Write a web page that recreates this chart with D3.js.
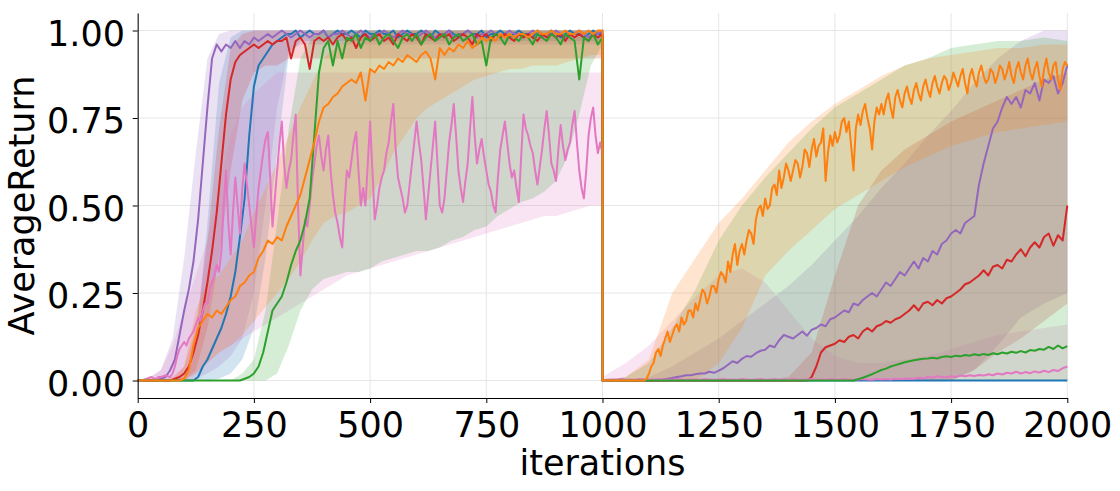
<!DOCTYPE html>
<html>
<head>
<meta charset="utf-8">
<script src="https://cdn.jsdelivr.net/npm/d3@7"></script>
<style>
  body { margin: 0; background: #fff; }
  svg text { font-family: 'DejaVu Sans', sans-serif; fill: #000; }
</style>
</head>
<body>
<svg id="chart" width="1120" height="491"></svg>
<script>
// ticks
const xTicks = [0, 250, 500, 750, 1000, 1250, 1500, 1750, 2000]
const yTicks = [0, 0.25, 0.5, 0.75, 1.0]

// mean lines: task A covers iters 0..1000, task B 1000..2000, evenly sampled
// (every 10 iters, or every 5 for the noisiest curves)
const blueMeanA = [
  0,0,0,0,0,0,0,0,0,0,
  0,0,0,0.01,0.04,0.06,0.09,0.12,0.15,0.19,
  0.24,0.31,0.41,0.52,0.70,0.84,0.90,0.92,0.94,0.96,
  0.97,0.98,0.99,0.99,1.00,0.98,0.99,1.00,0.99,0.99,
  1.00,0.98,0.99,1.00,0.99,0.99,1.00,0.99,0.98,1.00,
  0.99,0.99,1.00,0.99,0.99,1.00,0.98,0.99,1.00,0.99,
  0.99,1.00,0.99,0.98,1.00,0.99,0.99,1.00,0.99,0.98,
  0.99,1.00,0.99,0.99,1.00,0.98,0.99,0.99,1.00,0.99,
  0.98,0.99,1.00,0.99,0.99,0.98,1.00,0.99,0.99,1.00,
  0.99,0.98,0.99,1.00,0.99,0.99,0.98,0.99,1.00,0.99,
  0.99]
const blueMeanB = [
  0,0,0,0,0,0,0,0,0,0, 0,0,0,0,0,0,0,0,0,0,
  0,0,0,0,0,0,0,0,0,0, 0,0,0,0,0,0,0,0,0,0,
  0,0,0,0,0,0,0,0,0,0, 0,0,0,0,0,0,0,0,0,0,
  0,0,0,0,0,0,0,0,0,0, 0,0,0,0,0,0,0,0,0,0,
  0,0,0,0,0,0,0,0,0,0, 0,0,0,0,0,0,0,0,0,0,
  0]

const purpleMeanA = [
  0,0,0,0,0,0.005,0.01,0.03,0.06,0.13,
  0.20,0.26,0.34,0.46,0.62,0.78,0.92,0.96,0.94,0.96,
  0.95,0.97,0.95,0.97,0.96,0.98,0.97,0.98,0.99,0.98,
  0.99,1.00,0.99,0.98,0.99,1.00,0.99,0.98,0.99,0.99,
  1.00,0.98,0.99,0.99,1.00,0.99,0.98,0.99,1.00,0.99,
  0.98,0.99,0.99,1.00,0.99,0.98,0.99,1.00,0.99,0.99,
  0.98,0.99,1.00,0.99,0.98,0.99,0.99,1.00,0.98,0.99,
  0.99,1.00,0.99,0.98,0.99,0.99,1.00,0.99,0.98,0.99,
  1.00,0.99,0.99,0.98,0.99,1.00,0.99,0.98,0.99,0.99,
  1.00,0.99,0.98,0.99,0.99,1.00,0.99,0.98,0.99,0.99,
  1.00]
const purpleMeanB = [
  0,0,0,0,0,0,0,0,0,0,
  0,0,0,0.003,0.005,0.007,0.01,0.012,0.015,0.015,
  0.018,0.02,0.02,0.025,0.022,0.028,0.035,0.045,0.055,0.05,
  0.062,0.07,0.068,0.078,0.085,0.088,0.1,0.095,0.115,0.13,
  0.125,0.12,0.13,0.14,0.128,0.145,0.15,0.16,0.155,0.175,
  0.18,0.19,0.2,0.195,0.22,0.215,0.23,0.24,0.25,0.24,
  0.26,0.28,0.27,0.29,0.31,0.3,0.32,0.34,0.32,0.35,
  0.34,0.37,0.36,0.39,0.4,0.42,0.43,0.42,0.45,0.46,
  0.47,0.56,0.62,0.67,0.72,0.74,0.78,0.81,0.79,0.81,
  0.78,0.83,0.82,0.85,0.8,0.86,0.85,0.87,0.82,0.85,
  0.9]

const redMeanA = [
  0,0,0,0,0,0,0,0,0.005,0.01,
  0.02,0.04,0.08,0.13,0.2,0.28,0.37,0.48,0.62,0.76,
  0.86,0.91,0.93,0.94,0.95,0.96,0.95,0.96,0.97,0.96,
  0.97,0.97,0.98,0.92,0.97,0.98,0.96,0.89,0.97,0.98,
  0.97,0.98,0.96,0.98,0.99,0.97,0.98,0.95,0.98,0.99,
  0.97,0.98,0.99,0.97,0.98,0.96,0.99,0.98,0.97,0.99,
  0.98,0.96,0.99,0.98,0.97,0.99,0.98,0.99,0.97,0.98,
  0.99,0.98,0.96,0.99,0.98,0.99,0.97,0.99,0.98,0.99,
  0.98,0.97,0.99,0.98,0.99,0.98,0.97,0.99,0.98,0.99,
  0.98,0.99,0.97,0.99,0.98,0.99,0.98,0.97,0.99,0.98,
  0.99]
const redMeanB = [
  0,0,0,0,0,0,0,0,0,0, 0,0,0,0,0,0,0,0,0,0,
  0,0,0,0,0,0,0,0,0,0, 0,0,0,0,0,0,0,0,0,0,
  0,0,0,0,0,0.01,0.04,0.08,0.095,0.1,
  0.105,0.115,0.11,0.125,0.13,0.12,0.14,0.15,0.14,0.155,
  0.16,0.17,0.165,0.175,0.18,0.19,0.2,0.215,0.2,0.22,
  0.225,0.215,0.23,0.22,0.235,0.24,0.25,0.26,0.275,0.28,
  0.29,0.3,0.315,0.3,0.325,0.33,0.32,0.345,0.34,0.36,
  0.375,0.355,0.38,0.395,0.38,0.41,0.42,0.385,0.415,0.4,
  0.5]

const greenMeanA = [
  0,0,0,0,0,0,0,0,0,0,
  0,0,0,0,0,0,0,0,0,0,
  0,0,0,0.005,0.01,0.02,0.04,0.08,0.14,0.2,
  0.22,0.24,0.28,0.33,0.37,0.4,0.45,0.52,0.7,0.88,
  0.95,0.97,0.9,0.97,0.92,0.98,0.97,0.99,0.95,0.98,
  0.97,0.99,0.96,0.98,0.99,0.97,0.95,0.98,0.99,0.97,
  0.99,0.96,0.98,0.99,0.97,0.98,0.99,0.96,0.98,0.99,
  0.97,0.98,0.99,0.96,0.97,0.9,0.98,0.99,0.98,0.96,
  0.99,0.98,0.97,0.99,0.98,0.96,0.99,0.98,0.97,0.99,
  0.98,0.96,0.99,0.98,0.97,0.86,0.98,0.97,0.99,0.96,
  0.98]
const greenMeanB = [
  0,0,0,0,0,0,0,0,0,0, 0,0,0,0,0,0,0,0,0,0,
  0,0,0,0,0,0,0,0,0,0, 0,0,0,0,0,0,0,0,0,0,
  0,0,0,0,0,0,0,0,0,0,
  0,0,0,0,0,0.004,0.008,0.013,0.018,0.024,
  0.03,0.034,0.04,0.044,0.048,0.052,0.055,0.058,0.06,0.062,
  0.063,0.065,0.063,0.067,0.069,0.067,0.071,0.069,0.073,0.071,
  0.075,0.072,0.076,0.073,0.078,0.075,0.08,0.077,0.082,0.079,
  0.084,0.08,0.087,0.085,0.09,0.088,0.096,0.09,0.1,0.092,
  0.098]

const orangeMeanA = [
  0,0,0,0,0,0,0,0,0,0,
  0.005,0.03,0.1,0.15,0.17,0.19,0.18,0.2,0.19,0.21,
  0.23,0.24,0.27,0.28,0.3,0.31,0.35,0.37,0.4,0.39,
  0.41,0.4,0.44,0.47,0.5,0.53,0.58,0.63,0.68,0.74,
  0.78,0.79,0.81,0.82,0.84,0.85,0.86,0.85,0.88,0.8,
  0.89,0.88,0.9,0.89,0.91,0.9,0.92,0.91,0.93,0.92,
  0.91,0.93,0.94,0.92,0.86,0.95,0.93,0.95,0.94,0.96,
  0.95,0.97,0.95,0.96,0.98,0.97,0.98,0.97,0.99,0.98,
  0.99,0.98,0.99,0.99,0.98,0.99,1.0,0.99,0.99,1.0,
  0.99,0.99,1.0,0.99,0.99,1.0,0.99,1.0,0.99,1.0,
  1.0]
// every 5 iters
const orangeMeanB = [
  0,0,0,0,0,0,0,0,0,0,0,0,0,0,0,0,0,0,0,0.005,
  0.02,0.04,0.05,0.08,0.09,0.07,0.1,0.12,0.14,0.11,0.13,0.15,0.16,0.14,0.18,0.16,0.17,0.2,0.2,0.18,
  0.22,0.2,0.23,0.26,0.25,0.22,0.24,0.27,0.27,0.25,0.29,0.31,0.3,0.28,0.34,0.31,0.36,0.39,0.33,0.37,
  0.39,0.36,0.4,0.43,0.42,0.39,0.46,0.49,0.5,0.47,0.52,0.49,0.5,0.55,0.56,0.53,0.6,0.55,0.58,0.62,
  0.6,0.57,0.6,0.63,0.62,0.58,0.61,0.66,0.65,0.61,0.66,0.69,0.64,0.67,0.68,0.72,0.57,0.65,0.7,0.67,
  0.71,0.68,0.7,0.74,0.75,0.71,0.74,0.67,0.6,0.72,0.76,0.73,0.77,0.79,0.75,0.72,0.66,0.74,0.78,0.76,
  0.79,0.76,0.8,0.82,0.78,0.75,0.81,0.83,0.8,0.78,0.82,0.84,0.81,0.79,0.83,0.85,0.82,0.8,0.84,0.86,
  0.83,0.81,0.85,0.87,0.84,0.82,0.85,0.87,0.86,0.83,0.85,0.88,0.86,0.84,0.87,0.89,0.85,0.82,0.87,0.89,
  0.86,0.84,0.88,0.9,0.87,0.85,0.86,0.89,0.88,0.85,0.87,0.9,0.89,0.86,0.88,0.91,0.87,0.85,0.89,0.91,
  0.88,0.86,0.9,0.92,0.88,0.86,0.89,0.91,0.87,0.84,0.89,0.92,0.88,0.86,0.9,0.91,0.86,0.83,0.89,0.91,
  0.9]

// every 5 iters
const pinkMeanA = [
  0,0,0,0.003,0.005,0.008,0.01,0.006,0.005,0.01,0.01,0.012,0.015,0.012,0.01,0.02,0.04,0.07,0.09,0.1,
  0.11,0.1,0.12,0.13,0.14,0.16,0.18,0.17,0.2,0.22,0.22,0.26,0.28,0.3,0.33,0.31,0.37,0.5,0.6,0.45,
  0.36,0.48,0.58,0.5,0.42,0.55,0.62,0.56,0.5,0.44,0.38,0.47,0.55,0.6,0.65,0.69,0.71,0.58,0.44,0.52,
  0.6,0.68,0.74,0.62,0.55,0.6,0.63,0.7,0.76,0.5,0.3,0.38,0.46,0.44,0.5,0.57,0.62,0.67,0.7,0.64,
  0.6,0.66,0.7,0.6,0.53,0.48,0.45,0.41,0.38,0.5,0.6,0.58,0.63,0.68,0.71,0.6,0.5,0.55,0.5,0.62,
  0.74,0.6,0.46,0.5,0.55,0.58,0.6,0.65,0.68,0.74,0.79,0.66,0.58,0.55,0.52,0.48,0.5,0.56,0.62,0.68,
  0.74,0.68,0.63,0.55,0.46,0.53,0.6,0.67,0.74,0.62,0.5,0.48,0.52,0.6,0.68,0.73,0.79,0.7,0.6,0.55,
  0.51,0.57,0.62,0.72,0.81,0.7,0.62,0.66,0.69,0.64,0.6,0.56,0.54,0.5,0.48,0.58,0.66,0.7,0.74,0.68,
  0.62,0.58,0.6,0.55,0.51,0.64,0.76,0.72,0.7,0.67,0.65,0.6,0.56,0.61,0.66,0.72,0.77,0.7,0.62,0.6,
  0.57,0.66,0.73,0.67,0.63,0.66,0.68,0.73,0.77,0.68,0.6,0.55,0.52,0.6,0.7,0.75,0.78,0.7,0.65,0.68,
  0.65]
const pinkMeanB = [
  0,0.002,0.003,0.002,0.004,0.002,0.003,0.002,0.004,0.003,
  0.002,0.003,0.004,0.002,0.003,0.002,0.004,0.003,0.002,0.003,
  0.003,0.002,0.004,0.003,0.002,0.003,0.004,0.002,0.003,0.002,
  0.004,0.003,0.002,0.003,0.004,0.002,0.003,0.004,0.002,0.003,
  0.002,0.004,0.003,0.002,0.003,0.004,0.002,0.003,0.002,0.004,
  0.003,0.002,0.004,0.003,0.002,0.003,0.004,0.003,0.002,0.004,
  0.003,0.004,0.003,0.005,0.004,0.005,0.006,0.005,0.008,0.006,
  0.01,0.008,0.012,0.01,0.009,0.012,0.01,0.014,0.012,0.015,
  0.013,0.016,0.014,0.018,0.015,0.02,0.017,0.022,0.02,0.025,
  0.02,0.024,0.021,0.026,0.023,0.028,0.024,0.03,0.027,0.035,
  0.04]

// min/max bands: task A every 25 iters, task B every 50 iters
const blueLowA = [0,0,0,0,0,0,0,0.005,0.02,0.06,0.15,0.35,0.65,0.93,0.97,0.97,
  0.97,0.97,0.97,0.97,0.97,0.97,0.97,0.97,0.97,0.97,0.97,0.97,0.97,0.97,0.97,0.97,0.97,0.97,0.97,0.97,0.97,0.97,0.97,0.97,0.97]
const blueHighA = [0,0,0,0,0.01,0.1,0.45,0.85,0.98,
  1,1,1,1,1,1,1,1,1,1,1,1,1,1,1,1,1,1,1,1,1,1,1,1,1,1,1,1,1,1,1,1]
const blueLowB = [0,0,0,0,0,0,0,0,0,0,0,0,0,0,0,0,0,0,0,0,0]
const blueHighB = [0,0,0,0,0,0,0,0,0,0,0,0,0,0,0,0,0,0,0,0,0]

const purpleLowA = [0,0,0,0,0,0.005,0.02,0.04,0.07,0.12,0.25,0.5,0.78,0.94,0.96,
  0.96,0.96,0.96,0.96,0.96,0.96,0.96,0.96,0.96,0.96,0.96,0.96,0.96,0.96,0.96,0.96,0.96,0.96,0.96,0.96,0.96,0.96,0.96,0.96,0.96,0.96]
const purpleHighA = [0,0.005,0.03,0.12,0.35,0.65,0.92,0.99,
  1,1,1,1,1,1,1,1,1,1,1,1,1,1,1,1,1,1,1,1,1,1,1,1,1,1,1,1,1,1,1,1,1]
const purpleLowB = [0,0,0,0,0,0,0,0,0,0,0,0,0,0,0,0,0.03,0.1,0.18,0.22,0.25]
const purpleHighB = [0,0,0.01,0.04,0.08,0.12,0.17,0.22,0.27,0.33,0.4,0.47,0.55,0.62,0.7,0.77,0.85,0.92,0.97,1.0,1.0]

const redLowA = [0,0,0,0,0,0.03,0.15,0.35,0.6,0.8,0.88,0.9,0.9,
  0.92,0.92,0.92,0.92,0.92,0.92,0.92,0.92,0.92,0.92,0.92,0.92,0.92,0.92,0.92,0.92,0.92,0.92,0.92,0.92,0.92,0.92,0.92,0.92,0.92,0.92,0.92,0.92]
const redHighA = [0,0,0,0.01,0.04,0.15,0.4,0.72,0.95,0.99,
  1,1,1,1,1,1,1,1,1,1,1,1,1,1,1,1,1,1,1,1,1,1,1,1,1,1,1,1,1,1,1]
const redLowB = [0,0,0,0,0,0,0,0,0,0,0,0,0,0,0,0,0.03,0.08,0.12,0.17,0.22]
const redHighB = [0,0,0,0,0,0,0,0,0.01,0.08,0.3,0.5,0.6,0.66,0.7,0.74,0.77,0.8,0.83,0.86,0.88]

const greenLowA = [0,0,0,0,0,0,0,0,0,0,0,0,
  0.02,0.1,0.2,0.26,0.29,0.3,0.31,0.31,0.32,0.34,0.35,0.36,0.37,0.37,0.38,0.4,0.41,0.43,0.44,0.47,0.49,0.51,0.52,0.54,0.57,0.64,0.76,0.9,0.96]
const greenHighA = [0,0,0,0,0,0,0,0,0,0.02,0.06,0.2,0.45,0.72,0.92,0.98,
  1,1,1,1,1,1,1,1,1,1,1,1,1,1,1,1,1,1,1,1,1,1,1,1,1]
const greenLowB = [0,0,0,0,0,0,0,0,0,0,0,0,0,0,0,0,0,0,0,0,0]
const greenHighB = [0,0.01,0.05,0.15,0.26,0.4,0.5,0.58,0.65,0.72,0.78,0.82,0.86,0.9,0.92,0.95,0.96,0.97,0.97,0.98,0.97]

const orangeLowA = [0,0,0,0,0,0.02,0.05,0.08,0.1,0.13,0.17,0.21,0.25,0.29,0.34,0.4,0.45,0.47,0.48,0.5,0.52,
  0.58,0.65,0.7,0.75,0.78,0.8,0.82,0.84,0.86,0.87,0.88,0.89,0.89,0.9,0.9,0.9,0.91,0.92,0.93,0.93]
const orangeHighA = [0,0,0,0,0.04,0.2,0.28,0.3,0.35,0.4,0.48,0.55,0.62,0.7,0.78,0.85,0.92,0.95,0.97,0.98,0.99,
  1,1,1,1,1,1,1,1,1,1,1,1,1,1,1,1,1,1,1,1]
const orangeLowB = [0,0,0,0,0,0.05,0.15,0.3,0.37,0.43,0.49,0.53,0.57,0.61,0.64,0.67,0.69,0.71,0.72,0.73,0.74]
const orangeHighB = [0,0.01,0.06,0.25,0.35,0.45,0.52,0.6,0.68,0.74,0.79,0.83,0.87,0.9,0.92,0.93,0.94,0.95,0.95,0.96,0.96]

const pinkLowA = [0,0,0,0,0,0.02,0.05,0.08,0.1,0.12,0.14,0.16,0.18,0.2,0.22,0.24,0.26,0.28,0.3,0.31,0.32,
  0.33,0.34,0.35,0.36,0.37,0.38,0.39,0.4,0.41,0.42,0.43,0.44,0.45,0.46,0.47,0.47,0.48,0.49,0.5,0.5]
const pinkHighA = [0,0.01,0.03,0.1,0.2,0.3,0.4,0.55,0.7,0.78,0.82,0.85,
  0.88,0.88,0.88,0.88,0.88,0.88,0.88,0.88,0.88,0.88,0.88,0.88,0.88,0.88,0.88,0.88,0.88,0.88,0.88,0.88,0.88,0.88,0.88,0.88,0.88,0.88,0.88,0.88,0.88]
const pinkLowB = [0,0,0,0,0,0,0,0,0,0,0,0,0,0,0,0,0,0,0,0,0]
const pinkHighB = [0.01,0.05,0.1,0.17,0.24,0.3,0.32,0.28,0.2,0.12,0.07,0.05,0.05,0.06,0.07,0.09,0.11,0.13,0.14,0.15,0.16]

// drawing order follows the original plot
const series = [
  { color: '#1f77b4', meanA: blueMeanA, meanB: blueMeanB, lowA: blueLowA, highA: blueHighA, lowB: blueLowB, highB: blueHighB },
  { color: '#9467bd', meanA: purpleMeanA, meanB: purpleMeanB, lowA: purpleLowA, highA: purpleHighA, lowB: purpleLowB, highB: purpleHighB },
  { color: '#d62728', meanA: redMeanA, meanB: redMeanB, lowA: redLowA, highA: redHighA, lowB: redLowB, highB: redHighB },
  { color: '#e377c2', meanA: pinkMeanA, meanB: pinkMeanB, lowA: pinkLowA, highA: pinkHighA, lowB: pinkLowB, highB: pinkHighB },
  { color: '#2ca02c', meanA: greenMeanA, meanB: greenMeanB, lowA: greenLowA, highA: greenHighA, lowB: greenLowB, highB: greenHighB },
  { color: '#ff7f0e', meanA: orangeMeanA, meanB: orangeMeanB, lowA: orangeLowA, highA: orangeHighA, lowB: orangeLowB, highB: orangeHighB }
]

const chartW = 1120
const chartH = 491
const plotLeft = 137.7, plotRight = 1067.3, plotTop = 13, plotBottom = 398

const svg = d3.select('#chart')
svg.append('rect').attr('width', chartW).attr('height', chartH).attr('fill', '#fff')

const x = d3.scaleLinear().domain([0, 2000]).range([plotLeft, plotRight])
const y = d3.scaleLinear().domain([-0.05, 1.05]).range([plotBottom, plotTop])

// grid
const grid = svg.append('g').attr('class', 'grid')
grid.selectAll('.gx').data(xTicks).enter().append('line')
  .attr('x1', d => x(d)).attr('x2', d => x(d))
  .attr('y1', plotTop).attr('y2', plotBottom)
  .attr('stroke', '#e6e6e6').attr('stroke-width', 1)
grid.selectAll('.gy').data(yTicks).enter().append('line')
  .attr('x1', plotLeft).attr('x2', plotRight)
  .attr('y1', d => y(d)).attr('y2', d => y(d))
  .attr('stroke', '#e6e6e6').attr('stroke-width', 1)

// each half spans 1000 iters, the sample step follows from the array length
const halfPoints = (arr, start) => arr.map((v, i) => [start + i * 1000 / (arr.length - 1), v])
const meanPoints = s => halfPoints(s.meanA, 0).concat(halfPoints(s.meanB, 1000))
const bandPoints = s => {
  const a = halfPoints(s.lowA, 0).map((p, i) => [p[0], p[1], s.highA[i]])
  const b = halfPoints(s.lowB, 1000).map((p, i) => [p[0], p[1], s.highB[i]])
  return a.concat(b)
}

const area = d3.area()
  .x(d => x(d[0]))
  .y0(d => y(d[1]))
  .y1(d => y(d[2]))
const line = d3.line()
  .x(d => x(d[0]))
  .y(d => y(d[1]))

// bands first, lines on top
svg.append('g').attr('class', 'bands')
  .selectAll('path').data(series).enter().append('path')
  .attr('d', d => area(bandPoints(d)))
  .attr('fill', d => d.color)
  .attr('fill-opacity', 0.2)
  .attr('stroke', 'none')

svg.append('g').attr('class', 'lines')
  .selectAll('path').data(series).enter().append('path')
  .attr('d', d => line(meanPoints(d)))
  .attr('fill', 'none')
  .attr('stroke', d => d.color)
  .attr('stroke-width', 2)
  .attr('stroke-linejoin', 'round')

// axes
const xAxis = svg.append('g')
  .attr('transform', `translate(0,${plotBottom})`)
  .call(d3.axisBottom(x).tickValues(xTicks).tickSize(5).tickSizeOuter(0).tickFormat(d3.format('d')))
xAxis.selectAll('text').attr('dy', null).attr('y', 38.5)

const yAxis = svg.append('g')
  .attr('transform', `translate(${plotLeft},0)`)
  .call(d3.axisLeft(y).tickValues(yTicks).tickSize(5).tickSizeOuter(0).tickFormat(d3.format('.2f')))
yAxis.selectAll('text').attr('dy', null).attr('y', 14.5).attr('x', -12.7)

svg.selectAll('.tick text').attr('font-size', 35).attr('font-family', 'DejaVu Sans')
svg.selectAll('.domain, .tick line').attr('stroke', '#000').attr('stroke-width', 1)

svg.append('text')
  .attr('x', (plotLeft + plotRight) / 2)
  .attr('y', 475)
  .attr('text-anchor', 'middle')
  .attr('font-size', 35)
  .text('iterations')

svg.append('text')
  .attr('transform', `translate(34,${(plotTop + plotBottom) / 2}) rotate(-90)`)
  .attr('text-anchor', 'middle')
  .attr('font-size', 35)
  .text('AverageReturn')
</script>
</body>
</html>
